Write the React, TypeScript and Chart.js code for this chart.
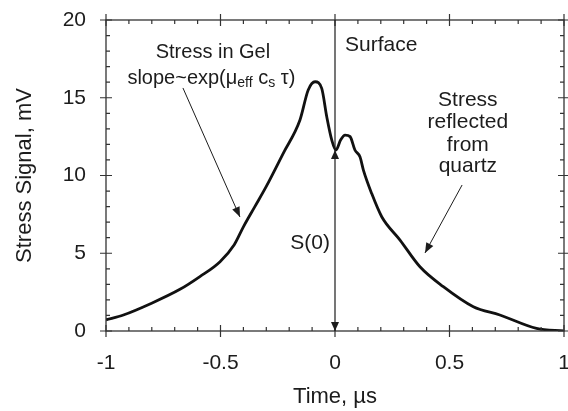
import React, { useEffect, useRef } from "react";
import { Chart, registerables } from "chart.js";

Chart.register(...registerables);

// ---- data ----
const timeUs: number[] = [
  -1.0, -0.924, -0.808, -0.677, -0.59, -0.502, -0.44, -0.4, -0.35, -0.3,
  -0.226, -0.153, -0.117, -0.087, -0.058, -0.036, -0.014, 0.004, 0.025, 0.044,
  0.066, 0.087, 0.109, 0.124, 0.16, 0.204, 0.284, 0.371, 0.473, 0.604, 0.72, 0.88, 1.0,
];
const stressMV: number[] = [
  0.72, 1.03, 1.74, 2.68, 3.5, 4.46, 5.55, 6.7, 8.0, 9.3,
  11.43, 13.57, 15.5, 16.03, 15.6, 13.78, 12.28, 11.64, 12.3, 12.6,
  12.5, 11.64, 11.2, 10.35, 8.85, 7.35, 5.85, 4.13, 2.85, 1.56, 1.03, 0.17, 0.0,
];
const xRange: number[] = [-1, 1];
const yRange: number[] = [0, 20];
const xMajorStep = 0.5;
const xMinorStep = 0.1;
const yMajorStep = 5;
const yMinorStep = 1;
const surfaceS0: number[] = [0, 11.64];

const FONT = "'Liberation Sans', Arial, Helvetica, sans-serif";
const INK = "#1c1c1c";

function arrowHead(ctx: CanvasRenderingContext2D, x1: number, y1: number, x2: number, y2: number, len = 9, half = 4) {
  const ang = Math.atan2(y2 - y1, x2 - x1);
  ctx.beginPath();
  ctx.moveTo(x2, y2);
  ctx.lineTo(x2 - len * Math.cos(ang) + half * Math.sin(ang), y2 - len * Math.sin(ang) - half * Math.cos(ang));
  ctx.lineTo(x2 - len * Math.cos(ang) - half * Math.sin(ang), y2 - len * Math.sin(ang) + half * Math.cos(ang));
  ctx.closePath();
  ctx.fill();
}

const framePlugin = {
  id: "frameTicks",
  afterDatasetsDraw(chart: any) {
    const { ctx, chartArea: a, scales } = chart;
    const x = scales.x, y = scales.y;
    ctx.save();
    ctx.strokeStyle = "#333";
    ctx.lineWidth = 1.3;
    ctx.strokeRect(a.left, a.top, a.right - a.left, a.bottom - a.top);
    ctx.lineWidth = 1.2;
    const nx = Math.round((xRange[1] - xRange[0]) / xMinorStep);
    for (let i = 0; i <= nx; i++) {
      const v = xRange[0] + i * xMinorStep;
      const px = x.getPixelForValue(v);
      const major = Math.abs(v / xMajorStep - Math.round(v / xMajorStep)) < 1e-6;
      ctx.beginPath();
      if (major) {
        ctx.moveTo(px, a.bottom - 6); ctx.lineTo(px, a.bottom + 6);
        ctx.moveTo(px, a.top - 6); ctx.lineTo(px, a.top + 6);
      } else {
        ctx.moveTo(px, a.bottom); ctx.lineTo(px, a.bottom - 4);
        ctx.moveTo(px, a.top); ctx.lineTo(px, a.top + 4);
      }
      ctx.stroke();
    }
    const ny = Math.round((yRange[1] - yRange[0]) / yMinorStep);
    for (let i = 0; i <= ny; i++) {
      const v = yRange[0] + i * yMinorStep;
      const py = y.getPixelForValue(v);
      const major = Math.abs(v / yMajorStep - Math.round(v / yMajorStep)) < 1e-6;
      ctx.beginPath();
      if (major) {
        ctx.moveTo(a.left - 6, py); ctx.lineTo(a.left + 6, py);
        ctx.moveTo(a.right - 6, py); ctx.lineTo(a.right + 6, py);
      } else {
        ctx.moveTo(a.left, py); ctx.lineTo(a.left + 4, py);
        ctx.moveTo(a.right, py); ctx.lineTo(a.right - 4, py);
      }
      ctx.stroke();
    }
    ctx.restore();
  },
  afterDraw(chart: any) {
    const { ctx, chartArea: a, scales } = chart;
    const X = (v: number) => scales.x.getPixelForValue(v);
    const Y = (v: number) => scales.y.getPixelForValue(v);
    ctx.save();
    ctx.fillStyle = INK;
    ctx.strokeStyle = INK;

    // Surface line with S(0) double arrow
    const sx = X(surfaceS0[0]);
    ctx.lineWidth = 1.2;
    ctx.beginPath();
    ctx.moveTo(sx, a.top);
    ctx.lineTo(sx, a.bottom);
    ctx.stroke();
    arrowHead(ctx, sx, Y(surfaceS0[1]) + 20, sx, Y(surfaceS0[1]), 9, 4);
    arrowHead(ctx, sx, Y(0) - 20, sx, Y(0), 9, 4);

    // Arrows
    const arrows = [
      [-0.664, 15.63, -0.415, 7.33],
      [0.555, 9.39, 0.393, 5.02],
    ];
    ctx.lineWidth = 1;
    for (const [x1, y1, x2, y2] of arrows) {
      const p1x = X(x1), p1y = Y(y1), p2x = X(x2), p2y = Y(y2);
      ctx.beginPath();
      ctx.moveTo(p1x, p1y);
      ctx.lineTo(p2x, p2y);
      ctx.stroke();
      arrowHead(ctx, p1x, p1y, p2x, p2y, 10, 4);
    }

    ctx.textBaseline = "middle";
    // Stress in Gel
    ctx.font = `20px ${FONT}`;
    ctx.textAlign = "center";
    ctx.fillText("Stress in Gel", X(-0.533), Y(17.88));

    // slope~exp(μeff cs τ)
    const parts: [string, boolean][] = [
      ["slope~exp(\u03bc", false], ["eff", true], [" c", false], ["s", true], [" \u03c4)", false],
    ];
    const big = `20px ${FONT}`, small = `14px ${FONT}`;
    let total = 0;
    for (const [t, sub] of parts) { ctx.font = sub ? small : big; total += ctx.measureText(t).width; }
    let cx = X(-0.54) - total / 2;
    const cy = Y(16.27);
    ctx.textAlign = "left";
    for (const [t, sub] of parts) {
      ctx.font = sub ? small : big;
      ctx.fillText(t, cx, sub ? cy + 5 : cy);
      cx += ctx.measureText(t).width;
    }

    // Surface
    ctx.font = `21px ${FONT}`;
    ctx.textAlign = "left";
    ctx.fillText("Surface", X(0.044), Y(18.4));

    // S(0)
    ctx.textAlign = "right";
    ctx.fillText("S(0)", X(-0.022), Y(5.66));

    // Stress reflected from quartz
    ctx.font = `21px ${FONT}`;
    ctx.textAlign = "center";
    const lines = ["Stress", "reflected", "from", "quartz"];
    const ly = [14.86, 13.4, 11.98, 10.58];
    lines.forEach((t, i) => ctx.fillText(t, X(0.58), Y(ly[i])));

    ctx.restore();
  },
};

export default function App() {
  const ref = useRef<HTMLCanvasElement | null>(null);
  useEffect(() => {
    if (!ref.current) return;
    const chart = new Chart(ref.current, {
      type: "line",
      data: {
        datasets: [
          {
            data: timeUs.map((t, i) => ({ x: t, y: stressMV[i] })),
            borderColor: "#111",
            borderWidth: 2.8,
            pointRadius: 0,
            cubicInterpolationMode: "monotone",
            fill: false,
          },
        ],
      },
      options: {
        animation: false,
        responsive: false,
        devicePixelRatio: 1,
        layout: { padding: { left: 0, right: 4, top: 20, bottom: 0 } },
        plugins: { legend: { display: false }, tooltip: { enabled: false } },
        scales: {
          x: {
            type: "linear",
            min: xRange[0],
            max: xRange[1],
            grid: { display: false, drawTicks: false },
            border: { display: false },
            ticks: {
              stepSize: xMajorStep,
              padding: 20,
              color: INK,
              font: { family: FONT, size: 21 },
              callback: (v: any) => String(Math.round(Number(v) * 10) / 10),
            },
            title: { display: true, text: "Time, \u00b5s", color: INK, font: { family: FONT, size: 22 }, padding: { top: 0, bottom: 1 } },
            afterFit: (s: any) => { s.height = 80; s.paddingLeft = 0; s.paddingRight = 0; },
          },
          y: {
            min: yRange[0],
            max: yRange[1],
            grid: { display: false, drawTicks: false },
            border: { display: false },
            ticks: { stepSize: yMajorStep, padding: 20, color: INK, font: { family: FONT, size: 21 } },
            title: { display: true, text: "Stress Signal, mV", color: INK, font: { family: FONT, size: 22 }, padding: { top: 12, bottom: 0 } },
            afterFit: (s: any) => { s.width = 106; s.paddingTop = 0; s.paddingBottom = 0; },
          },
        },
      },
      plugins: [framePlugin],
    } as any);
    return () => chart.destroy();
  }, []);
  return (
    <div style={{ position: "absolute", left: 0, top: 0, width: 568, height: 411, background: "#fff" }}>
      <canvas ref={ref} width={568} height={411} />
    </div>
  );
}
